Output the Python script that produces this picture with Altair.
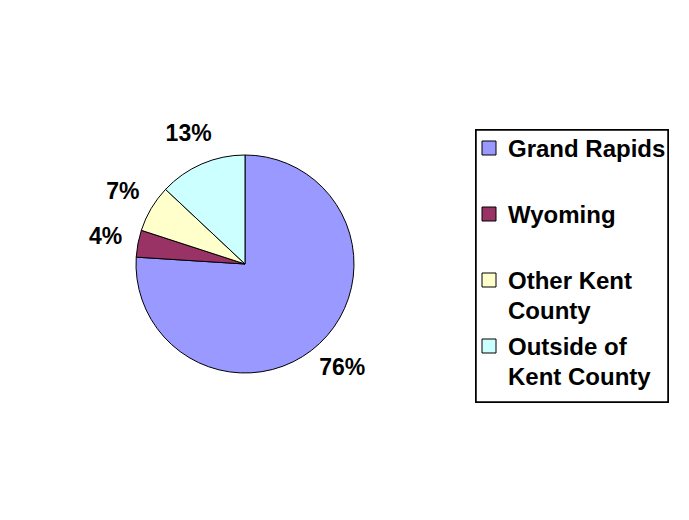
import altair as alt
import pandas as pd

categories = ["Grand Rapids", "Wyoming", "Other Kent County", "Outside of Kent County"]
legend_text = ["Grand Rapids", "Wyoming", "Other Kent\nCounty", "Outside of\nKent County"]
values = [76, 4, 7, 13]
pct_labels = ["76%", "4%", "7%", "13%"]
colors = ["#9999FF", "#993366", "#FFFFCC", "#CCFFFF"]

df = pd.DataFrame({
    "category": categories,
    "legend": legend_text,
    "value": values,
    "pct": pct_labels,
    "k": list(range(len(categories))),
})

FONT = "Liberation Sans"
CX, CY, R = 237, 256, 109

color = alt.Color("category:N", scale=alt.Scale(domain=categories, range=colors), legend=None)

base = alt.Chart(df)

pie = base.mark_arc(outerRadius=R, stroke="black", strokeWidth=1).encode(
    theta=alt.Theta("value:Q", stack=True),
    order=alt.Order("k:Q"),
    color=color,
    x=alt.value(CX),
    y=alt.value(CY),
)

labels = base.mark_text(radius=142, font=FONT, fontSize=23, fontWeight="bold", color="black").encode(
    theta=alt.Theta("value:Q", stack=True),
    order=alt.Order("k:Q"),
    text="pct:N",
    x=alt.value(CX),
    y=alt.value(CY),
)

box = base.mark_rect(fill="white", stroke="black", strokeWidth=1.5).encode(
    x=alt.value(468), x2=alt.value(660), y=alt.value(122), y2=alt.value(394)
)

yscale = alt.Scale(domain=categories, range=[130, 328], padding=0)

sym = base.mark_square(size=196, stroke="black", strokeWidth=1, opacity=1, yOffset=10).encode(
    x=alt.value(481),
    y=alt.Y("category:N", scale=yscale, axis=None, sort=categories),
    color=color,
)

txt = base.mark_text(font=FONT, fontSize=24, fontWeight="bold", color="black", align="left",
                     baseline="top", lineBreak="\n", lineHeight=30).encode(
    x=alt.value(500),
    y=alt.Y("category:N", scale=yscale, axis=None, sort=categories),
    text="legend:N",
)

chart = alt.layer(pie, labels, box, sym, txt).properties(
    width=673, height=504, autosize=alt.AutoSizeParams(type="none"), padding=0, background="white"
).configure_view(stroke=None)

chart.save("out.html", embed_options={"renderer": "svg", "actions": False})
